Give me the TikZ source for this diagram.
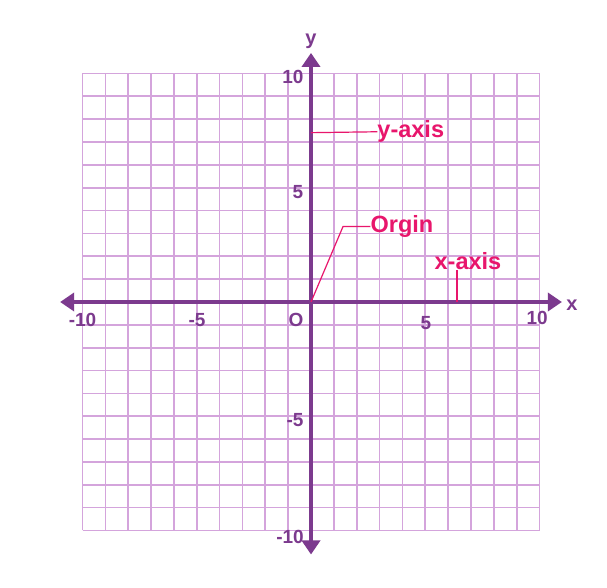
\documentclass[tikz,border=0pt]{standalone}
\usepackage{fontspec}
\setmainfont{Liberation Sans}
\usetikzlibrary{arrows.meta}
\definecolor{gridc}{RGB}{212,164,220}
\definecolor{axisc}{RGB}{124,58,142}
\definecolor{pinkc}{RGB}{232,22,108}
\tikzset{
  gridline/.style={draw=gridc, line width=1.7pt},
  axisline/.style={draw=axisc, line width=3.6pt, {Triangle[length=14pt,width=18pt]}-{Triangle[length=14pt,width=18pt]}},
  numlbl/.style={text=axisc, font=\fontsize{19}{21}\selectfont\bfseries, inner sep=0pt},
  axlbl/.style={text=axisc, font=\fontsize{20}{22}\selectfont\bfseries, inner sep=0pt},
  pinklbl/.style={text=pinkc, font=\fontsize{23.5}{25}\selectfont\bfseries, inner sep=0pt},
  pinkline/.style={draw=pinkc, line width=1.2pt}
}
\begin{document}
\begin{tikzpicture}[x=1pt,y=1pt]
\useasboundingbox[fill=white] (0,0) rectangle (607,588);
\begin{scope}[shift={(311,286)}, x=22.85pt, y=22.85pt]
  % grid
  \foreach \i in {-10,...,10} {
    \draw[gridline] (\i,-10) -- (\i,10);
    \draw[gridline] (-10,\i) -- (10,\i);
  }
  % axes
  \coordinate (xl) at (-10.98,0);
  \coordinate (xr) at (10.98,0);
  \coordinate (yt) at (0,10.9);
  \coordinate (yb) at (0,-11.05);
  \coordinate (O) at (0,0);
  \draw[axisline] (xl) -- (xr);
  \draw[axisline] (yb) -- (yt);
  \node[axlbl] (xlab) at (11.42,-0.13) {x};
  \node[axlbl] (ylab) at (0,11.4) {y};
  % x numbers
  \node[numlbl] (xm10) at (-10,-0.79) {-10};
  \node[numlbl] (xm5) at (-4.99,-0.79) {-5};
  \node[numlbl] (olab) at (-0.66,-0.79) {O};
  \node[numlbl] (xp5) at (5.03,-0.92) {5};
  \node[numlbl] (xp10) at (9.9,-0.72) {10};
  % y numbers
  \node[numlbl] (yp10) at (-0.79,9.85) {10};
  \node[numlbl] (yp5) at (-0.57,4.82) {5};
  \node[numlbl] (ym5) at (-0.7,-5.16) {-5};
  \node[numlbl] (ym10) at (-0.92,-10.28) {-10};
  % pink annotations
  \coordinate (ya) at (0,7.41);
  \node[pinklbl, anchor=west] (yaxis) at (2.9,7.45) {y-axis};
  \draw[pinkline] (ya) -- (yaxis.west);
  \coordinate (ob) at (1.4,3.3);
  \node[pinklbl, anchor=west] (orgin) at (2.6,3.3) {Orgin};
  \draw[pinkline] (O) -- (ob) -- (orgin.west);
  \coordinate (xa) at (6.39,0);
  \node[pinklbl, anchor=south] (xaxis) at (6.87,1.42) {x-axis};
  \draw[pinkline] (xa) -- (6.39,1.42);
\end{scope}
\end{tikzpicture}
\end{document}
